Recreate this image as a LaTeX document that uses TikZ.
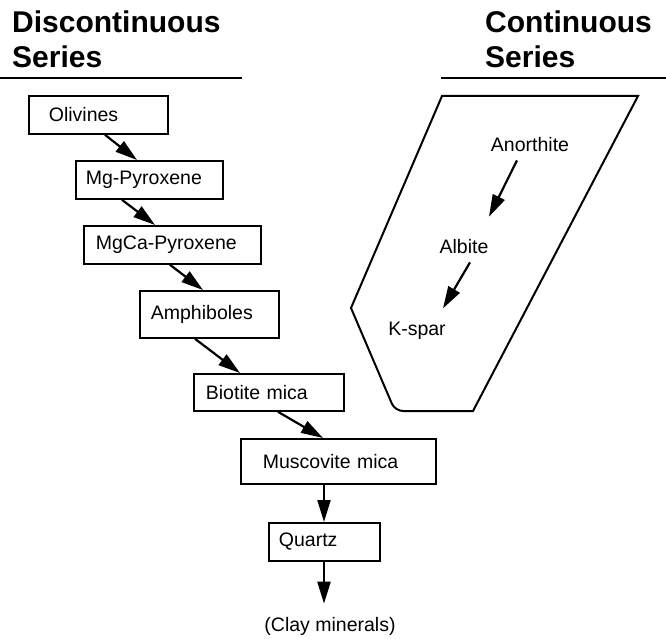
\documentclass[tikz,border=0pt]{standalone}
\usepackage{fontspec}
\setmainfont{Liberation Sans}
\usetikzlibrary{arrows.meta}
\begin{document}
\begin{tikzpicture}[x=1pt,y=-1pt,
  mbox/.style={draw, line width=1.8pt, anchor=north west, align=left, inner ysep=0pt,
    font=\fontsize{19.5}{23}\selectfont},
  lbl/.style={anchor=base, inner sep=0pt, font=\fontsize{19.5}{23}\selectfont},
  hdr/.style={anchor=base west, inner sep=0pt, font=\fontsize{30}{34}\selectfont\bfseries},
  arr/.style={line width=2.2pt, -{Triangle[length=22pt,width=13pt]}},
  rule/.style={line width=2pt}]
\useasboundingbox (0,0) rectangle (666,639);
% headers
\node[hdr] (h1) at (12,33) {Discontinuous};
\node[hdr] (h2) at (12,68) {Series};
\node[hdr] (h3) at (485,33) {Continuous};
\node[hdr] (h4) at (485,68) {Series};
\draw[rule] (0,78) -- (242,78);
\draw[rule] (441,78) -- (666,78);
% discontinuous boxes
\node[mbox, minimum height=38pt, inner xsep=20pt, text width=99pt] (oli) at (28,95) {Olivines};
\node[mbox, minimum height=38pt, inner xsep=10pt, text width=127pt] (mg) at (75,160) {Mg-Pyroxene};
\node[mbox, minimum height=38pt, inner xsep=12pt, text width=153pt] (mgca) at (83,225) {MgCa-Pyroxene};
\node[mbox, minimum height=47pt, inner xsep=11pt, text width=117pt] (amph) at (139,290) {Amphiboles};
\node[mbox, minimum height=37pt, inner xsep=12pt, text width=126pt] (bio) at (193,373) {Biotite mica};
\node[mbox, minimum height=45pt, inner xsep=22pt, text width=151pt] (musc) at (240,438) {Muscovite mica};
\node[mbox, minimum height=38pt, inner xsep=10pt, text width=91pt] (qtz) at (268,522) {Quartz};
\node[lbl] (clay) at (330,631) {(Clay minerals)};
\draw[arr] ([xshift=77pt]oli.south west) -- ([xshift=62pt]mg.north west);
\draw[arr] ([xshift=47pt]mg.south west) -- ([xshift=72pt]mgca.north west);
\draw[arr] ([xshift=87pt]mgca.south west) -- ([xshift=64pt]amph.north west);
\draw[arr] ([xshift=56pt]amph.south west) -- ([xshift=47pt]bio.north west);
\draw[arr] ([xshift=85pt]bio.south west) -- ([xshift=83pt]musc.north west);
\draw[arr] ([xshift=84pt]musc.south west) -- ([xshift=56pt]qtz.north west);
\draw[arr] ([xshift=56pt]qtz.south west) -- ([xshift=-6pt,yshift=13pt]clay.north);
% continuous series
\draw[line width=2pt] (442,96) -- (638,96) -- (473,411)
  [rounded corners=8pt] -- (395,411) [sharp corners] -- (351,308) -- cycle;
\node[lbl] (anor) at (530,152) {Anorthite};
\node[lbl] (alb) at (464,253) {Albite};
\node[lbl] (ksp) at (417,335) {K-spar};
\draw[arr] ([xshift=-13pt,yshift=-8pt]anor.south) -- ([xshift=25pt,yshift=22pt]alb.north);
\draw[arr] ([xshift=6pt,yshift=-9pt]alb.south) -- ([xshift=26pt,yshift=13pt]ksp.north);
\end{tikzpicture}
\end{document}
